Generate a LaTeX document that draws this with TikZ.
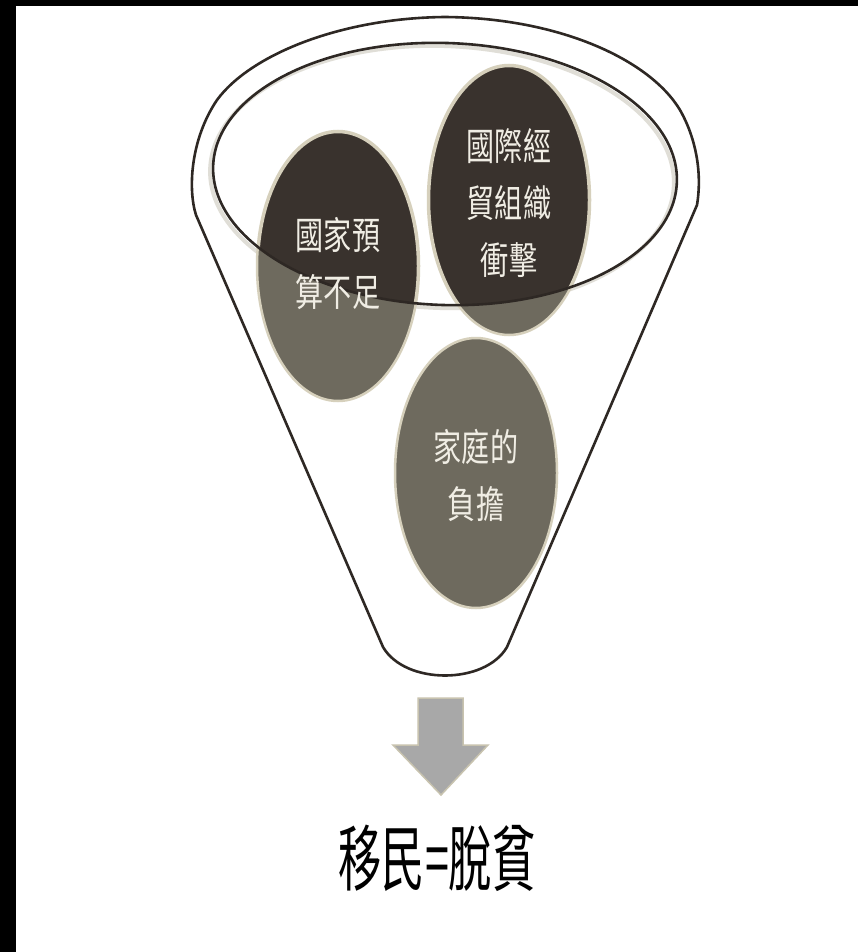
\documentclass[tikz,border=0pt]{standalone}
\usepackage{fontspec}
\usetikzlibrary{shapes.geometric}
\newfontfamily\bubblefont[FakeStretch=0.74]{Noto Sans CJK TC}
\newfontfamily\bottomfont[FakeStretch=0.6]{Noto Sans CJK TC}
\definecolor{linec}{RGB}{46,40,36}
\definecolor{darkc}{RGB}{57,50,45}
\definecolor{grayc}{RGB}{110,106,94}
\definecolor{haloc}{RGB}{214,208,188}
\definecolor{shadowc}{RGB}{224,222,215}
\definecolor{textc}{RGB}{240,237,228}
\definecolor{arrowc}{RGB}{168,168,168}
\definecolor{arrowb}{RGB}{200,195,175}
\tikzset{
  bubble/.style={ellipse, fill=grayc, draw=haloc, line width=2.5pt,
    minimum width=162pt, minimum height=270pt, inner sep=0pt},
  bubbletext/.style={font=\bubblefont\fontsize{38pt}{57pt}\selectfont,
    text=textc, align=center, inner sep=0pt},
  rim/.style={draw=linec, line width=2.6pt},
}
\begin{document}
\begin{tikzpicture}[x=1pt,y=-1pt]
\useasboundingbox (0,0) rectangle (858,952);
\fill[white] (0,0) rectangle (858,952);
\fill[black] (0,0) rectangle (858,6);
\fill[black] (0,0) rectangle (16,952);
% funnel outline
\draw[rim, line join=round] (383,647) -- (196,215)
  .. controls (188,190) and (190,140) .. (217,100)
  .. controls (250,55) and (340,18) .. (445,17)
  .. controls (560,18) and (650,60) .. (680,110)
  .. controls (697,140) and (702,175) .. (697,205)
  -- (507,647)
  .. controls (485,685) and (405,685) .. (383,647) -- cycle;
% shadow of the inner rim
\draw[shadowc, line width=4pt, rotate around={-2:(442,177)}] (442,177) ellipse [x radius=232, y radius=131];
% bubbles
\node[bubble] (b1) at (338,266) {};
\node[bubble] (b2) at (509,200) {};
\node[bubble] (b3) at (476,473) {};
% dark part inside the inner rim
\begin{scope}
  \clip[rotate around={-2:(445,174)}] (445,174) ellipse [x radius=232, y radius=131];
  \fill[darkc, draw=haloc, line width=2.5pt] (b1.center) ellipse [x radius=80, y radius=134];
  \fill[darkc, draw=haloc, line width=2.5pt] (b2.center) ellipse [x radius=80, y radius=134];
\end{scope}
% inner rim
\draw[rim, rotate around={-2:(445,174)}] (445,174) ellipse [x radius=232, y radius=131];
% bubble texts
\node[bubbletext] (t1) at ([yshift=2]b1.center) {國家預\\算不足};
\node[bubbletext] (t2) at ([yshift=-3]b2.center) {國際經\\貿組織\\衝擊};
\node[bubbletext] (t3) at ([yshift=-2]b3.center) {家庭的\\負擔};
% arrow
\fill[arrowc, draw=arrowb, line width=1.5pt, line join=miter]
  (418,698) -- (463,698) -- (463,745) -- (488,745) -- (441,795)
  -- (393,745) -- (418,745) -- cycle;
% result
\node[font=\bottomfont\fontsize{72pt}{80pt}\selectfont, text=black, inner sep=0pt] (res) at (437,858) {移民=脫貧};
\end{tikzpicture}
\end{document}
